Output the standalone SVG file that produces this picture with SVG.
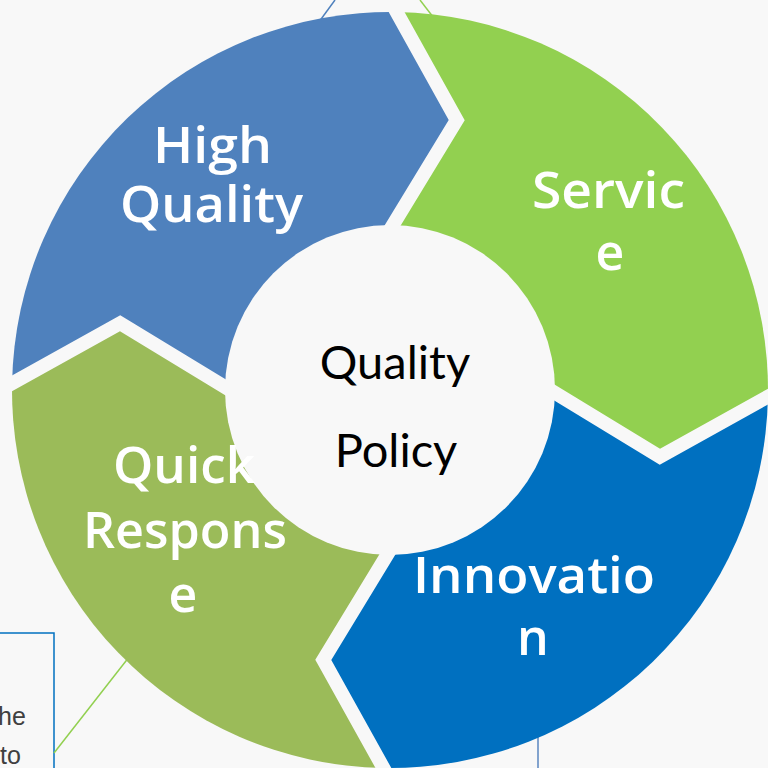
<svg xmlns="http://www.w3.org/2000/svg" width="768" height="768" viewBox="0 0 768 768">
  <defs>
    <clipPath id="ring" clipPathUnits="userSpaceOnUse">
      <circle cx="0" cy="0" r="378"/>
    </clipPath>
    <path id="seg" d="M0 0 L-18.3 -120 L70 -271 L-22.1 -430 L480 -480 L430 -38.1 L271 54 L120 -34.3 Z"/>
  </defs>
  <style>
    .lbl { font-family: "Open Sans", "Noto Sans", sans-serif; font-size: 50px; font-weight: 600; fill: #ffffff; }
    .ctr { font-family: Lato, "Open Sans", sans-serif; font-size: 47px; fill: #000000; text-anchor: middle; }
    .note { font-family: "Liberation Sans", Arial, sans-serif; font-size: 25px; fill: #404040; }
    .conn { fill: none; stroke-width: 1.5; }
  </style>
  <rect x="0" y="0" width="768" height="768" fill="#f8f8f8"/>

  <g id="note-box">
    <rect x="-10" y="633" width="64" height="200" fill="none" stroke="#0070c0" stroke-width="1.5"/>
    <text class="note" x="-2" y="725">he</text>
    <text class="note" x="0" y="764">to</text>
  </g>

  <g id="connectors">
    <line class="conn" x1="335" y1="0" x2="316" y2="26" stroke="#4f81bd"/>
    <line class="conn" x1="420" y1="0" x2="440" y2="26" stroke="#92d050"/>
    <line class="conn" x1="54" y1="753" x2="140" y2="643" stroke="#92d050"/>
    <line class="conn" x1="538" y1="720" x2="538" y2="768" stroke="#5b87c0"/>
  </g>

  <g id="service">
    <use href="#seg" transform="translate(390,390) rotate(1)" clip-path="url(#ring)" fill="#92d050"/>
  </g>
  <g id="innovation">
    <use href="#seg" transform="translate(390,390) rotate(91)" clip-path="url(#ring)" fill="#0070c0"/>
  </g>
  <g id="quick-response">
    <use href="#seg" transform="translate(390,390) rotate(181)" clip-path="url(#ring)" fill="#9bbb59"/>
  </g>
  <g id="high-quality">
    <use href="#seg" transform="translate(390,390) rotate(271)" clip-path="url(#ring)" fill="#4f81bd"/>
  </g>

  <g id="quality-policy">
    <circle cx="390" cy="390" r="165" fill="#f8f8f8"/>
    <text class="ctr" x="395" y="379">Quality</text>
    <text class="ctr" x="396" y="467">Policy</text>
  </g>

  <g id="labels">
    <text class="lbl" x="153" y="163" textLength="119" lengthAdjust="spacingAndGlyphs">High</text>
    <text class="lbl" x="120" y="222" textLength="183" lengthAdjust="spacingAndGlyphs">Quality</text>
    <text class="lbl" x="532" y="208" textLength="153" lengthAdjust="spacingAndGlyphs">Servic</text>
    <text class="lbl" x="610" y="270" text-anchor="middle">e</text>
    <text class="lbl" x="113" y="483" textLength="142" lengthAdjust="spacingAndGlyphs">Quick</text>
    <text class="lbl" x="83" y="548" textLength="204" lengthAdjust="spacingAndGlyphs">Respons</text>
    <text class="lbl" x="183" y="612" text-anchor="middle">e</text>
    <text class="lbl" x="413" y="593" textLength="242" lengthAdjust="spacingAndGlyphs">Innovatio</text>
    <text class="lbl" x="533" y="655" text-anchor="middle">n</text>
  </g>
</svg>
